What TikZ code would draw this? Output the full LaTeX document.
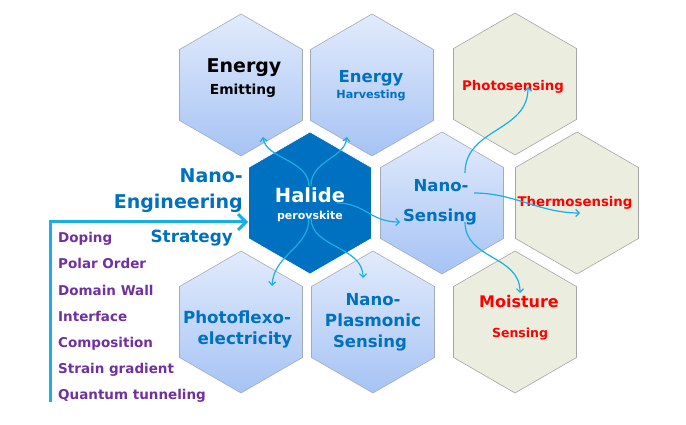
\documentclass[tikz,border=0pt]{standalone}
\usepackage{fontspec}
\setmainfont{DejaVu Sans}
\usepackage{xcolor}
\usetikzlibrary{calc,arrows.meta,shapes.geometric}
\definecolor{perovBlue}{HTML}{0070C0}
\definecolor{hexTop}{HTML}{E2EBFC}
\definecolor{hexBottom}{HTML}{A6C3F4}
\definecolor{hexLine}{HTML}{A3ABB8}
\definecolor{senseFill}{HTML}{EBEEDF}
\definecolor{senseLine}{HTML}{A5A5A5}
\definecolor{flowCyan}{HTML}{1AAEE6}
\definecolor{senseRed}{HTML}{FF0000}
\definecolor{listPurple}{HTML}{7030A0}
\tikzset{
  hexbase/.style={regular polygon, regular polygon sides=6, shape border rotate=30, minimum size=142pt, inner sep=0pt, line width=0.6pt},
  bluehex/.style={hexbase, draw=hexLine, top color=hexTop, bottom color=hexBottom},
  sensehex/.style={hexbase, draw=senseLine, fill=senseFill},
  corehex/.style={hexbase, draw=white, fill=perovBlue},
  hextext/.style 2 args={font=\fontsize{#1}{#1}\selectfont\bfseries, text=#2, inner sep=0pt, anchor=base},
  listtext/.style={font=\fontsize{13.5}{13.5}\selectfont\bfseries, text=listPurple, inner sep=0pt, anchor=base west},
  flowarrow/.style={-{Straight Barb[length=3.5pt,width=7pt]}, line width=1.2pt, draw=flowCyan},
  mainarrow/.style={-{Straight Barb[length=8pt,width=16pt]}, line width=3pt, draw=flowCyan},
}
\begin{document}
\begin{tikzpicture}[x=1pt,y=-1pt]
  \useasboundingbox (0,0) rectangle (686,425);

  % --- hexagons ---
  \node[bluehex] (emit) at (241,85) {};
  \node[bluehex] (harvest) at (372,85) {};
  \node[corehex] (core) at (310,203) {};
  \node[bluehex] (nanosense) at (442,203) {};
  \node[bluehex] (flexo) at (241,322) {};
  \node[bluehex] (plasmon) at (373,322) {};
  \node[sensehex] (photo) at (515,84) {};
  \node[sensehex] (thermo) at (577,203) {};
  \node[sensehex] (moist) at (515,322) {};

  % --- hexagon labels ---
  \node[hextext={19}{black}] (emitA) at (244,73) {Energy};
  \node[hextext={13.8}{black}] (emitB) at (243,95) {Emitting};
  \node[hextext={16.5}{perovBlue}] (harvestA) at (371,83) {Energy};
  \node[hextext={11.2}{perovBlue}] (harvestB) at (371,99) {Harvesting};
  \node[hextext={19.5}{white}] (coreA) at (310,203) {Halide};
  \node[hextext={11}{white}] (coreB) at (310,219) {perovskite};
  \node[hextext={16.5}{perovBlue}] (nanosenseA) at (441,192) {Nano-};
  \node[hextext={16.5}{perovBlue}] (nanosenseB) at (440,222) {Sensing};
  \node[hextext={16.7}{perovBlue}] (flexoA) at (237,323) {Photoflexo-};
  \node[hextext={16.7}{perovBlue}] (flexoB) at (245,344) {electricity};
  \node[hextext={16.5}{perovBlue}] (plasmonA) at (373,305) {Nano-};
  \node[hextext={16.8}{perovBlue}] (plasmonB) at (373,326) {Plasmonic};
  \node[hextext={16.5}{perovBlue}] (plasmonC) at (370,347) {Sensing};
  \node[hextext={13.3}{senseRed}] (photoA) at (513,91) {Photosensing};
  \node[hextext={13.3}{senseRed}] (thermoA) at (575,207) {Thermosensing};
  \node[hextext={16}{senseRed}] (moistA) at (519,307) {Moisture};
  \node[hextext={12.5}{senseRed}] (moistB) at (520,337) {Sensing};

  % --- strategy labels ---
  \node[hextext={19}{perovBlue}, anchor=base east] (engA) at (243,183) {Nano-};
  \node[hextext={19}{perovBlue}, anchor=base east] (engB) at (243,209) {Engineering};
  \node[hextext={16.8}{perovBlue}, anchor=base east] (engC) at (233,242) {Strategy};
  \foreach \entry [count=\i from 0] in {Doping, Polar Order, Domain Wall, Interface, Composition, Strain gradient, Quantum tunneling}
    \node[listtext] (entry\i) at (58,243+26*\i) {\entry};

  % --- main strategy arrow ---
  \coordinate (listfoot) at (50,402);
  \draw[mainarrow] (listfoot) |- ([yshift=-19pt]core.west);

  % --- halide arrows ---
  \draw[flowarrow] ($(core)+(-1,-17)$) .. controls +(0,-26) and +(3,22) .. ($(emit)+(22,52)$);
  \draw[flowarrow] ($(core)+(1,-17)$) .. controls +(0,-26) and +(-3,22) .. ($(harvest)+(-25,52)$);
  \draw[flowarrow] ($(core)+(27,0)$) .. controls +(28,0) and +(-30,0) .. ($(nanosense)+(-42,19)$);
  \draw[flowarrow] ($(core)+(-1,15)$) .. controls +(0,30) and +(2,-32) .. ($(flexo)+(31,-36)$);
  \draw[flowarrow] ($(core)+(1,15)$) .. controls +(0,30) and +(0,-32) .. ($(plasmon)+(-10,-44)$);

  % --- sensing arrows ---
  \draw[flowarrow] ($(nanosense)+(23,-30)$) .. controls +(0,-45) and +(0,45) .. ($(photo)+(13,3)$);
  \draw[flowarrow] ($(nanosense)+(32,-10)$) .. controls +(40,0) and +(-40,0) .. ($(thermo)+(3,10)$);
  \draw[flowarrow] ($(nanosense)+(23,19)$) .. controls +(0,38) and +(0,-38) .. ($(moist)+(5,-29)$);
\end{tikzpicture}
\end{document}
